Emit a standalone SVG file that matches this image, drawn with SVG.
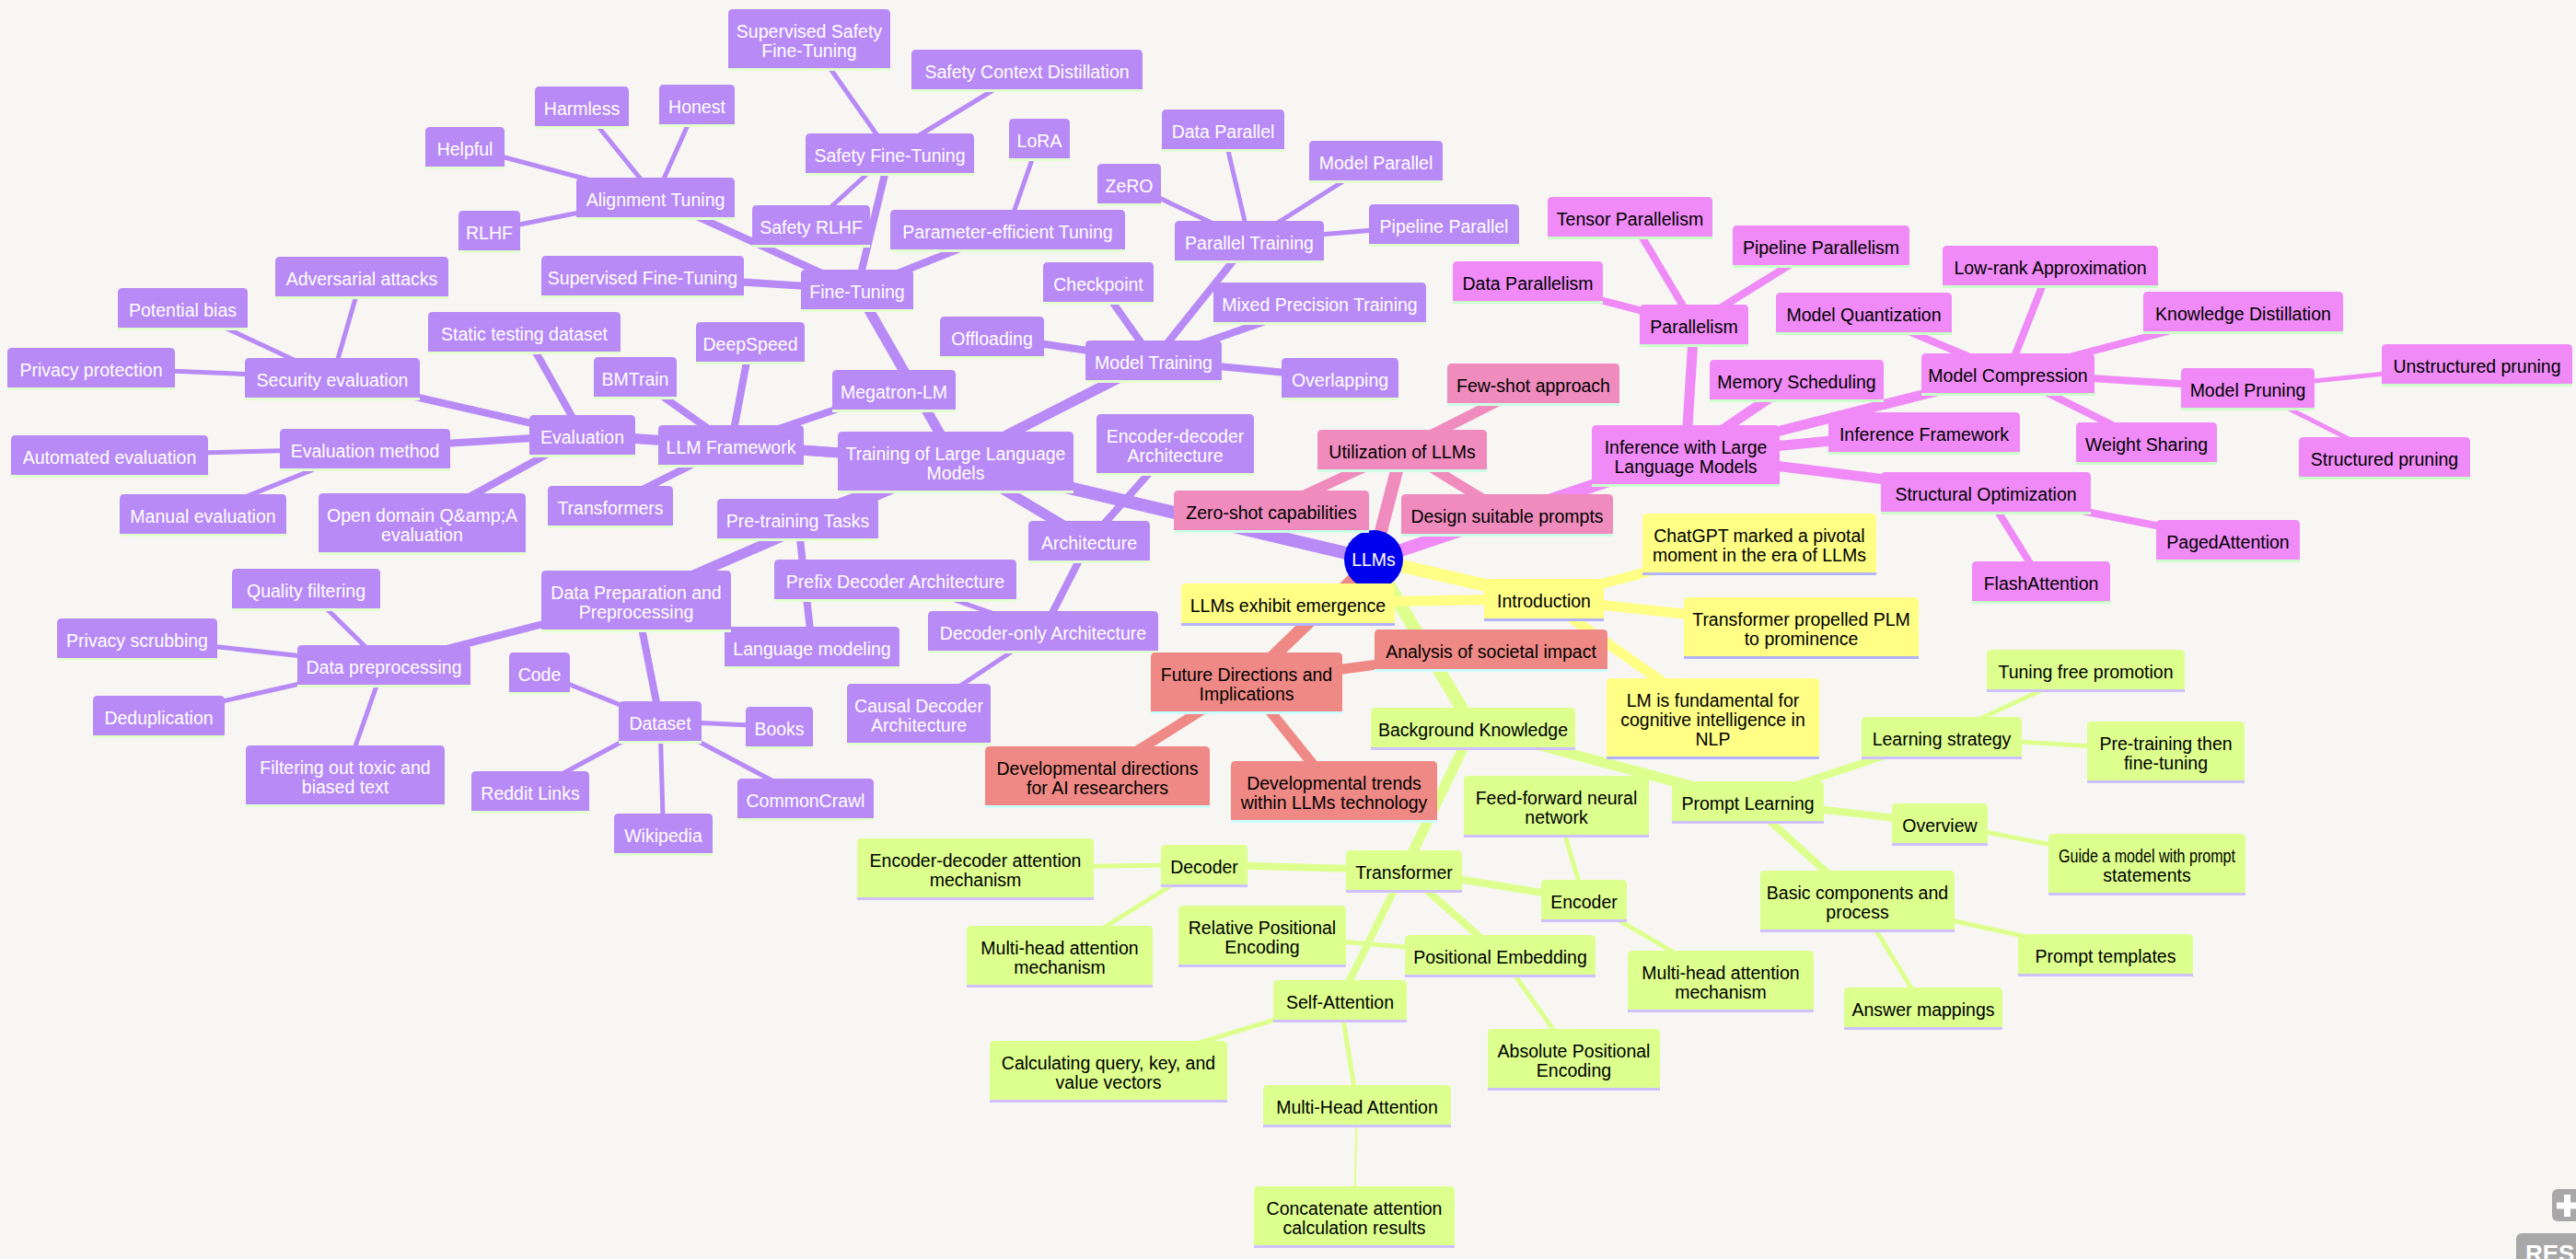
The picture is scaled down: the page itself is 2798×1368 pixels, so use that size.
<svg xmlns="http://www.w3.org/2000/svg" width="2798" height="1368" viewBox="0 0 2798 1368">
<style>
text{font-family:"Liberation Sans",Arial,sans-serif;font-size:19.5px;text-anchor:middle;fill:#000}
.y path{fill:#ffff86}.y .ln{fill:#b3b3fb}
.g path{fill:#ddff8e}.g .ln{fill:#cfc0ff}
.p path{fill:#b88af6}.p .ln{fill:#e3ffd2}.p text{fill:#fff}
.m path{fill:#ef8af6}.m .ln{fill:#ccffcc}
.k path{fill:#ef8bbd}.k .ln{fill:#ccffe6}
.s path{fill:#ef8985}.s .ln{fill:#ccffff}
#edges line{fill:none;stroke-linecap:butt}
.ey{stroke:#ffff86}.eg{stroke:#ddff8e}.ep{stroke:#b88af6}.em{stroke:#ef8af6}.ek{stroke:#ef8bbd}.es{stroke:#ef8985}
.d0{stroke-width:14}.d1{stroke-width:11}.d2{stroke-width:8}.d3{stroke-width:5}.d4{stroke-width:2}
</style>
<rect width="2798" height="1368" fill="#f7f6f3"/>
<g id="edges">
<line class="ey d0" x1="1492" y1="608" x2="1677" y2="650.5"/>
<line class="eg d0" x1="1492" y1="608" x2="1600" y2="790.5"/>
<line class="ep d0" x1="1492" y1="608" x2="1038" y2="501"/>
<line class="em d0" x1="1492" y1="608" x2="1831" y2="494"/>
<line class="ek d0" x1="1492" y1="608" x2="1523" y2="488.5"/>
<line class="es d0" x1="1492" y1="608" x2="1354" y2="741"/>
<line class="ey d1" x1="1677" y1="650.5" x2="1911" y2="590"/>
<line class="ey d1" x1="1677" y1="650.5" x2="1956.5" y2="681"/>
<line class="ey d1" x1="1677" y1="650.5" x2="1860.5" y2="779.5"/>
<line class="ey d1" x1="1677" y1="650.5" x2="1399" y2="655.5"/>
<line class="eg d1" x1="1600" y1="790.5" x2="1525" y2="945.5"/>
<line class="eg d1" x1="1600" y1="790.5" x2="1898.5" y2="870.5"/>
<line class="ep d1" x1="1038" y1="501" x2="866.5" y2="563.5"/>
<line class="ep d1" x1="1038" y1="501" x2="691" y2="652"/>
<line class="ep d1" x1="1038" y1="501" x2="1183" y2="587.5"/>
<line class="ep d1" x1="1038" y1="501" x2="1253" y2="391.5"/>
<line class="ep d1" x1="1038" y1="501" x2="931" y2="314.5"/>
<line class="ep d1" x1="1038" y1="501" x2="632.5" y2="472.5"/>
<line class="ep d1" x1="1038" y1="501" x2="794" y2="483.5"/>
<line class="em d1" x1="1831" y1="494" x2="1840" y2="352.5"/>
<line class="em d1" x1="1831" y1="494" x2="2181" y2="405.5"/>
<line class="em d1" x1="1831" y1="494" x2="1951.5" y2="412.5"/>
<line class="em d1" x1="1831" y1="494" x2="2090" y2="469.5"/>
<line class="em d1" x1="1831" y1="494" x2="2157" y2="534.5"/>
<line class="ek d1" x1="1523" y1="488.5" x2="1665.5" y2="416.5"/>
<line class="ek d1" x1="1523" y1="488.5" x2="1381" y2="554.5"/>
<line class="ek d1" x1="1523" y1="488.5" x2="1637" y2="558.5"/>
<line class="es d1" x1="1354" y1="741" x2="1619.5" y2="705.5"/>
<line class="es d1" x1="1354" y1="741" x2="1192" y2="843"/>
<line class="es d1" x1="1354" y1="741" x2="1449" y2="859"/>
<line class="eg d2" x1="1525" y1="945.5" x2="1720.5" y2="977.5"/>
<line class="eg d2" x1="1525" y1="945.5" x2="1308" y2="939.5"/>
<line class="eg d2" x1="1525" y1="945.5" x2="1629.5" y2="1037.5"/>
<line class="eg d2" x1="1525" y1="945.5" x2="1455.5" y2="1086.5"/>
<line class="eg d2" x1="1898.5" y1="870.5" x2="2109" y2="800.5"/>
<line class="eg d2" x1="1898.5" y1="870.5" x2="2107" y2="894.5"/>
<line class="eg d2" x1="1898.5" y1="870.5" x2="2017.5" y2="978"/>
<line class="ep d2" x1="866.5" y1="563.5" x2="882" y2="702.5"/>
<line class="ep d2" x1="691" y1="652" x2="417" y2="722.5"/>
<line class="ep d2" x1="691" y1="652" x2="717" y2="783.5"/>
<line class="ep d2" x1="1183" y1="587.5" x2="1276.5" y2="482"/>
<line class="ep d2" x1="1183" y1="587.5" x2="1133" y2="685.5"/>
<line class="ep d2" x1="1253" y1="391.5" x2="1357" y2="261.5"/>
<line class="ep d2" x1="1253" y1="391.5" x2="1193" y2="306.5"/>
<line class="ep d2" x1="1253" y1="391.5" x2="1077.5" y2="365.5"/>
<line class="ep d2" x1="1253" y1="391.5" x2="1433.5" y2="328.5"/>
<line class="ep d2" x1="1253" y1="391.5" x2="1455.5" y2="410.5"/>
<line class="ep d2" x1="931" y1="314.5" x2="698" y2="299.5"/>
<line class="ep d2" x1="931" y1="314.5" x2="712" y2="214.5"/>
<line class="ep d2" x1="931" y1="314.5" x2="1094.5" y2="249.5"/>
<line class="ep d2" x1="931" y1="314.5" x2="966.5" y2="166.5"/>
<line class="ep d2" x1="632.5" y1="472.5" x2="569.5" y2="360.5"/>
<line class="ep d2" x1="632.5" y1="472.5" x2="458.5" y2="568"/>
<line class="ep d2" x1="632.5" y1="472.5" x2="361" y2="410.5"/>
<line class="ep d2" x1="632.5" y1="472.5" x2="396.5" y2="487.5"/>
<line class="ep d2" x1="794" y1="483.5" x2="663" y2="549.5"/>
<line class="ep d2" x1="794" y1="483.5" x2="815" y2="371.5"/>
<line class="ep d2" x1="794" y1="483.5" x2="690" y2="409.5"/>
<line class="ep d2" x1="794" y1="483.5" x2="971" y2="423.5"/>
<line class="em d2" x1="1840" y1="352.5" x2="1659.5" y2="305.5"/>
<line class="em d2" x1="1840" y1="352.5" x2="1770.5" y2="235.5"/>
<line class="em d2" x1="1840" y1="352.5" x2="1978" y2="266.5"/>
<line class="em d2" x1="2181" y1="405.5" x2="2024.5" y2="339.5"/>
<line class="em d2" x1="2181" y1="405.5" x2="2227" y2="288.5"/>
<line class="em d2" x1="2181" y1="405.5" x2="2436.5" y2="338.5"/>
<line class="em d2" x1="2181" y1="405.5" x2="2441.5" y2="421.5"/>
<line class="em d2" x1="2181" y1="405.5" x2="2331.5" y2="480.5"/>
<line class="em d2" x1="2157" y1="534.5" x2="2420" y2="586.5"/>
<line class="em d2" x1="2157" y1="534.5" x2="2217" y2="631.5"/>
<line class="eg d3" x1="1720.5" y1="977.5" x2="1869" y2="1065"/>
<line class="eg d3" x1="1720.5" y1="977.5" x2="1690.5" y2="875"/>
<line class="eg d3" x1="1308" y1="939.5" x2="1059.5" y2="943"/>
<line class="eg d3" x1="1308" y1="939.5" x2="1151" y2="1038"/>
<line class="eg d3" x1="1629.5" y1="1037.5" x2="1709.5" y2="1150"/>
<line class="eg d3" x1="1629.5" y1="1037.5" x2="1371" y2="1016"/>
<line class="eg d3" x1="1455.5" y1="1086.5" x2="1204" y2="1163"/>
<line class="eg d3" x1="1455.5" y1="1086.5" x2="1474" y2="1200.5"/>
<line class="eg d3" x1="2109" y1="800.5" x2="2265.5" y2="727.5"/>
<line class="eg d3" x1="2109" y1="800.5" x2="2352.5" y2="816"/>
<line class="eg d3" x1="2107" y1="894.5" x2="2332" y2="938"/>
<line class="eg d3" x1="2017.5" y1="978" x2="2287" y2="1036.5"/>
<line class="eg d3" x1="2017.5" y1="978" x2="2089" y2="1094.5"/>
<line class="ep d3" x1="417" y1="722.5" x2="332.5" y2="639.5"/>
<line class="ep d3" x1="417" y1="722.5" x2="149" y2="693.5"/>
<line class="ep d3" x1="417" y1="722.5" x2="172.5" y2="777.5"/>
<line class="ep d3" x1="417" y1="722.5" x2="375" y2="842"/>
<line class="ep d3" x1="717" y1="783.5" x2="586" y2="730.5"/>
<line class="ep d3" x1="717" y1="783.5" x2="846.5" y2="789.5"/>
<line class="ep d3" x1="717" y1="783.5" x2="576" y2="859.5"/>
<line class="ep d3" x1="717" y1="783.5" x2="720.5" y2="905.5"/>
<line class="ep d3" x1="717" y1="783.5" x2="875" y2="867.5"/>
<line class="ep d3" x1="1133" y1="685.5" x2="972.5" y2="629.5"/>
<line class="ep d3" x1="1133" y1="685.5" x2="998" y2="775"/>
<line class="ep d3" x1="1357" y1="261.5" x2="1328.5" y2="140.5"/>
<line class="ep d3" x1="1357" y1="261.5" x2="1494.5" y2="174.5"/>
<line class="ep d3" x1="1357" y1="261.5" x2="1568.5" y2="243.5"/>
<line class="ep d3" x1="1357" y1="261.5" x2="1226.5" y2="199.5"/>
<line class="ep d3" x1="712" y1="214.5" x2="505" y2="159.5"/>
<line class="ep d3" x1="712" y1="214.5" x2="632" y2="115.5"/>
<line class="ep d3" x1="712" y1="214.5" x2="757" y2="113.5"/>
<line class="ep d3" x1="712" y1="214.5" x2="531.5" y2="250.5"/>
<line class="ep d3" x1="1094.5" y1="249.5" x2="1129" y2="150.5"/>
<line class="ep d3" x1="966.5" y1="166.5" x2="879" y2="42"/>
<line class="ep d3" x1="966.5" y1="166.5" x2="1115.5" y2="75.5"/>
<line class="ep d3" x1="966.5" y1="166.5" x2="881" y2="244.5"/>
<line class="ep d3" x1="361" y1="410.5" x2="198.5" y2="334.5"/>
<line class="ep d3" x1="361" y1="410.5" x2="99" y2="399.5"/>
<line class="ep d3" x1="361" y1="410.5" x2="393" y2="300.5"/>
<line class="ep d3" x1="396.5" y1="487.5" x2="119" y2="494.5"/>
<line class="ep d3" x1="396.5" y1="487.5" x2="220.5" y2="558.5"/>
<line class="em d3" x1="2441.5" y1="421.5" x2="2690.5" y2="395.5"/>
<line class="em d3" x1="2441.5" y1="421.5" x2="2590" y2="496.5"/>
<line class="eg d4" x1="1474" y1="1200.5" x2="1471" y2="1321"/>
</g>
<g id="root"><circle cx="1492" cy="608" r="32" fill="#0000ec"/><text x="1492" y="615" style="fill:#fff">LLMs</text></g>
<g id="n-introduction" class="y" transform="translate(1612,629)"><path d="M0 43V5q0-5 5-5h120q5 0 5 5V43z"/><rect class="ln" y="43" width="130" height="3"/><text x="65" y="30.5">Introduction</text></g>
<g id="n-chatgpt" class="y" transform="translate(1784,558)"><path d="M0 64V5q0-5 5-5h244q5 0 5 5V64z"/><rect class="ln" y="64" width="254" height="3"/><text y="30.5"><tspan x="127">ChatGPT marked a pivotal</tspan><tspan x="127" dy="21">moment in the era of LLMs</tspan></text></g>
<g id="n-transprop" class="y" transform="translate(1829,649)"><path d="M0 64V5q0-5 5-5h245q5 0 5 5V64z"/><rect class="ln" y="64" width="255" height="3"/><text y="30.5"><tspan x="127.5">Transformer propelled PLM</tspan><tspan x="127.5" dy="21">to prominence</tspan></text></g>
<g id="n-lmfund" class="y" transform="translate(1745,737)"><path d="M0 85V5q0-5 5-5h221q5 0 5 5V85z"/><rect class="ln" y="85" width="231" height="3"/><text y="30.5"><tspan x="115.5">LM is fundamental for</tspan><tspan x="115.5" dy="21">cognitive intelligence in</tspan><tspan x="115.5" dy="21">NLP</tspan></text></g>
<g id="n-emerge" class="y" transform="translate(1283,634)"><path d="M0 43V5q0-5 5-5h222q5 0 5 5V43z"/><rect class="ln" y="43" width="232" height="3"/><text x="116" y="30.5">LLMs exhibit emergence</text></g>
<g id="n-bg" class="g" transform="translate(1489,769)"><path d="M0 43V5q0-5 5-5h212q5 0 5 5V43z"/><rect class="ln" y="43" width="222" height="3"/><text x="111" y="30.5">Background Knowledge</text></g>
<g id="n-transformer" class="g" transform="translate(1462,924)"><path d="M0 43V5q0-5 5-5h116q5 0 5 5V43z"/><rect class="ln" y="43" width="126" height="3"/><text x="63" y="30.5">Transformer</text></g>
<g id="n-encoder" class="g" transform="translate(1674,956)"><path d="M0 43V5q0-5 5-5h83q5 0 5 5V43z"/><rect class="ln" y="43" width="93" height="3"/><text x="46.5" y="30.5">Encoder</text></g>
<g id="n-enc-mha" class="g" transform="translate(1768,1033)"><path d="M0 64V5q0-5 5-5h192q5 0 5 5V64z"/><rect class="ln" y="64" width="202" height="3"/><text y="30.5"><tspan x="101">Multi-head attention</tspan><tspan x="101" dy="21">mechanism</tspan></text></g>
<g id="n-ffn" class="g" transform="translate(1590,843)"><path d="M0 64V5q0-5 5-5h191q5 0 5 5V64z"/><rect class="ln" y="64" width="201" height="3"/><text y="30.5"><tspan x="100.5">Feed-forward neural</tspan><tspan x="100.5" dy="21">network</tspan></text></g>
<g id="n-decoder" class="g" transform="translate(1261,918)"><path d="M0 43V5q0-5 5-5h84q5 0 5 5V43z"/><rect class="ln" y="43" width="94" height="3"/><text x="47" y="30.5">Decoder</text></g>
<g id="n-encdecatt" class="g" transform="translate(931,911)"><path d="M0 64V5q0-5 5-5h247q5 0 5 5V64z"/><rect class="ln" y="64" width="257" height="3"/><text y="30.5"><tspan x="128.5">Encoder-decoder attention</tspan><tspan x="128.5" dy="21">mechanism</tspan></text></g>
<g id="n-dec-mha" class="g" transform="translate(1050,1006)"><path d="M0 64V5q0-5 5-5h192q5 0 5 5V64z"/><rect class="ln" y="64" width="202" height="3"/><text y="30.5"><tspan x="101">Multi-head attention</tspan><tspan x="101" dy="21">mechanism</tspan></text></g>
<g id="n-posemb" class="g" transform="translate(1526,1016)"><path d="M0 43V5q0-5 5-5h197q5 0 5 5V43z"/><rect class="ln" y="43" width="207" height="3"/><text x="103.5" y="30.5">Positional Embedding</text></g>
<g id="n-abspos" class="g" transform="translate(1616,1118)"><path d="M0 64V5q0-5 5-5h177q5 0 5 5V64z"/><rect class="ln" y="64" width="187" height="3"/><text y="30.5"><tspan x="93.5">Absolute Positional</tspan><tspan x="93.5" dy="21">Encoding</tspan></text></g>
<g id="n-relpos" class="g" transform="translate(1280,984)"><path d="M0 64V5q0-5 5-5h172q5 0 5 5V64z"/><rect class="ln" y="64" width="182" height="3"/><text y="30.5"><tspan x="91">Relative Positional</tspan><tspan x="91" dy="21">Encoding</tspan></text></g>
<g id="n-selfatt" class="g" transform="translate(1383,1065)"><path d="M0 43V5q0-5 5-5h135q5 0 5 5V43z"/><rect class="ln" y="43" width="145" height="3"/><text x="72.5" y="30.5">Self-Attention</text></g>
<g id="n-calcqkv" class="g" transform="translate(1075,1131)"><path d="M0 64V5q0-5 5-5h248q5 0 5 5V64z"/><rect class="ln" y="64" width="258" height="3"/><text y="30.5"><tspan x="129">Calculating query, key, and</tspan><tspan x="129" dy="21">value vectors</tspan></text></g>
<g id="n-mhatt" class="g" transform="translate(1372,1179)"><path d="M0 43V5q0-5 5-5h194q5 0 5 5V43z"/><rect class="ln" y="43" width="204" height="3"/><text x="102" y="30.5">Multi-Head Attention</text></g>
<g id="n-concat" class="g" transform="translate(1362,1289)"><path d="M0 64V5q0-5 5-5h208q5 0 5 5V64z"/><rect class="ln" y="64" width="218" height="3"/><text y="30.5"><tspan x="109">Concatenate attention</tspan><tspan x="109" dy="21">calculation results</tspan></text></g>
<g id="n-prompt" class="g" transform="translate(1816,849)"><path d="M0 43V5q0-5 5-5h155q5 0 5 5V43z"/><rect class="ln" y="43" width="165" height="3"/><text x="82.5" y="30.5">Prompt Learning</text></g>
<g id="n-learnstrat" class="g" transform="translate(2022,779)"><path d="M0 43V5q0-5 5-5h164q5 0 5 5V43z"/><rect class="ln" y="43" width="174" height="3"/><text x="87" y="30.5">Learning strategy</text></g>
<g id="n-tuningfree" class="g" transform="translate(2158,706)"><path d="M0 43V5q0-5 5-5h205q5 0 5 5V43z"/><rect class="ln" y="43" width="215" height="3"/><text x="107.5" y="30.5">Tuning free promotion</text></g>
<g id="n-pretrainft" class="g" transform="translate(2267,784)"><path d="M0 64V5q0-5 5-5h161q5 0 5 5V64z"/><rect class="ln" y="64" width="171" height="3"/><text y="30.5"><tspan x="85.5">Pre-training then</tspan><tspan x="85.5" dy="21">fine-tuning</tspan></text></g>
<g id="n-overview" class="g" transform="translate(2055,873)"><path d="M0 43V5q0-5 5-5h94q5 0 5 5V43z"/><rect class="ln" y="43" width="104" height="3"/><text x="52" y="30.5">Overview</text></g>
<g id="n-guide" class="g" transform="translate(2225,906)"><path d="M0 64V5q0-5 5-5h204q5 0 5 5V64z"/><rect class="ln" y="64" width="214" height="3"/><text y="30.5"><tspan x="107" textLength="192" lengthAdjust="spacingAndGlyphs">Guide a model with prompt</tspan><tspan x="107" dy="21">statements</tspan></text></g>
<g id="n-basic" class="g" transform="translate(1912,946)"><path d="M0 64V5q0-5 5-5h201q5 0 5 5V64z"/><rect class="ln" y="64" width="211" height="3"/><text y="30.5"><tspan x="105.5">Basic components and</tspan><tspan x="105.5" dy="21">process</tspan></text></g>
<g id="n-templates" class="g" transform="translate(2192,1015)"><path d="M0 43V5q0-5 5-5h180q5 0 5 5V43z"/><rect class="ln" y="43" width="190" height="3"/><text x="95" y="30.5">Prompt templates</text></g>
<g id="n-answer" class="g" transform="translate(2003,1073)"><path d="M0 43V5q0-5 5-5h162q5 0 5 5V43z"/><rect class="ln" y="43" width="172" height="3"/><text x="86" y="30.5">Answer mappings</text></g>
<g id="n-training" class="p" transform="translate(910,469)"><path d="M0 64V5q0-5 5-5h246q5 0 5 5V64z"/><rect class="ln" y="64" width="256" height="3"/><text y="30.5"><tspan x="128">Training of Large Language</tspan><tspan x="128" dy="21">Models</tspan></text></g>
<g id="n-pretasks" class="p" transform="translate(779,542)"><path d="M0 43V5q0-5 5-5h165q5 0 5 5V43z"/><rect class="ln" y="43" width="175" height="3"/><text x="87.5" y="30.5">Pre-training Tasks</text></g>
<g id="n-langmod" class="p" transform="translate(787,681)"><path d="M0 43V5q0-5 5-5h180q5 0 5 5V43z"/><rect class="ln" y="43" width="190" height="3"/><text x="95" y="30.5">Language modeling</text></g>
<g id="n-dataprep" class="p" transform="translate(588,620)"><path d="M0 64V5q0-5 5-5h196q5 0 5 5V64z"/><rect class="ln" y="64" width="206" height="3"/><text y="30.5"><tspan x="103">Data Preparation and</tspan><tspan x="103" dy="21">Preprocessing</tspan></text></g>
<g id="n-dataproc" class="p" transform="translate(323,701)"><path d="M0 43V5q0-5 5-5h178q5 0 5 5V43z"/><rect class="ln" y="43" width="188" height="3"/><text x="94" y="30.5">Data preprocessing</text></g>
<g id="n-quality" class="p" transform="translate(252,618)"><path d="M0 43V5q0-5 5-5h151q5 0 5 5V43z"/><rect class="ln" y="43" width="161" height="3"/><text x="80.5" y="30.5">Quality filtering</text></g>
<g id="n-privscrub" class="p" transform="translate(62,672)"><path d="M0 43V5q0-5 5-5h164q5 0 5 5V43z"/><rect class="ln" y="43" width="174" height="3"/><text x="87" y="30.5">Privacy scrubbing</text></g>
<g id="n-dedup" class="p" transform="translate(101,756)"><path d="M0 43V5q0-5 5-5h133q5 0 5 5V43z"/><rect class="ln" y="43" width="143" height="3"/><text x="71.5" y="30.5">Deduplication</text></g>
<g id="n-toxic" class="p" transform="translate(267,810)"><path d="M0 64V5q0-5 5-5h206q5 0 5 5V64z"/><rect class="ln" y="64" width="216" height="3"/><text y="30.5"><tspan x="108">Filtering out toxic and</tspan><tspan x="108" dy="21">biased text</tspan></text></g>
<g id="n-dataset" class="p" transform="translate(672,762)"><path d="M0 43V5q0-5 5-5h80q5 0 5 5V43z"/><rect class="ln" y="43" width="90" height="3"/><text x="45" y="30.5">Dataset</text></g>
<g id="n-code" class="p" transform="translate(553,709)"><path d="M0 43V5q0-5 5-5h56q5 0 5 5V43z"/><rect class="ln" y="43" width="66" height="3"/><text x="33" y="30.5">Code</text></g>
<g id="n-books" class="p" transform="translate(810,768)"><path d="M0 43V5q0-5 5-5h63q5 0 5 5V43z"/><rect class="ln" y="43" width="73" height="3"/><text x="36.5" y="30.5">Books</text></g>
<g id="n-reddit" class="p" transform="translate(512,838)"><path d="M0 43V5q0-5 5-5h118q5 0 5 5V43z"/><rect class="ln" y="43" width="128" height="3"/><text x="64" y="30.5">Reddit Links</text></g>
<g id="n-wiki" class="p" transform="translate(667,884)"><path d="M0 43V5q0-5 5-5h97q5 0 5 5V43z"/><rect class="ln" y="43" width="107" height="3"/><text x="53.5" y="30.5">Wikipedia</text></g>
<g id="n-cc" class="p" transform="translate(801,846)"><path d="M0 43V5q0-5 5-5h138q5 0 5 5V43z"/><rect class="ln" y="43" width="148" height="3"/><text x="74" y="30.5">CommonCrawl</text></g>
<g id="n-arch" class="p" transform="translate(1117,566)"><path d="M0 43V5q0-5 5-5h122q5 0 5 5V43z"/><rect class="ln" y="43" width="132" height="3"/><text x="66" y="30.5">Architecture</text></g>
<g id="n-encdecarch" class="p" transform="translate(1191,450)"><path d="M0 64V5q0-5 5-5h161q5 0 5 5V64z"/><rect class="ln" y="64" width="171" height="3"/><text y="30.5"><tspan x="85.5">Encoder-decoder</tspan><tspan x="85.5" dy="21">Architecture</tspan></text></g>
<g id="n-deconly" class="p" transform="translate(1008,664)"><path d="M0 43V5q0-5 5-5h240q5 0 5 5V43z"/><rect class="ln" y="43" width="250" height="3"/><text x="125" y="30.5">Decoder-only Architecture</text></g>
<g id="n-prefix" class="p" transform="translate(841,608)"><path d="M0 43V5q0-5 5-5h253q5 0 5 5V43z"/><rect class="ln" y="43" width="263" height="3"/><text x="131.5" y="30.5">Prefix Decoder Architecture</text></g>
<g id="n-causal" class="p" transform="translate(920,743)"><path d="M0 64V5q0-5 5-5h146q5 0 5 5V64z"/><rect class="ln" y="64" width="156" height="3"/><text y="30.5"><tspan x="78">Causal Decoder</tspan><tspan x="78" dy="21">Architecture</tspan></text></g>
<g id="n-modeltrain" class="p" transform="translate(1179,370)"><path d="M0 43V5q0-5 5-5h138q5 0 5 5V43z"/><rect class="ln" y="43" width="148" height="3"/><text x="74" y="30.5">Model Training</text></g>
<g id="n-partrain" class="p" transform="translate(1276,240)"><path d="M0 43V5q0-5 5-5h152q5 0 5 5V43z"/><rect class="ln" y="43" width="162" height="3"/><text x="81" y="30.5">Parallel Training</text></g>
<g id="n-dp" class="p" transform="translate(1262,119)"><path d="M0 43V5q0-5 5-5h123q5 0 5 5V43z"/><rect class="ln" y="43" width="133" height="3"/><text x="66.5" y="30.5">Data Parallel</text></g>
<g id="n-mp" class="p" transform="translate(1422,153)"><path d="M0 43V5q0-5 5-5h135q5 0 5 5V43z"/><rect class="ln" y="43" width="145" height="3"/><text x="72.5" y="30.5">Model Parallel</text></g>
<g id="n-pp" class="p" transform="translate(1487,222)"><path d="M0 43V5q0-5 5-5h153q5 0 5 5V43z"/><rect class="ln" y="43" width="163" height="3"/><text x="81.5" y="30.5">Pipeline Parallel</text></g>
<g id="n-zero" class="p" transform="translate(1192,178)"><path d="M0 43V5q0-5 5-5h59q5 0 5 5V43z"/><rect class="ln" y="43" width="69" height="3"/><text x="34.5" y="30.5">ZeRO</text></g>
<g id="n-ckpt" class="p" transform="translate(1133,285)"><path d="M0 43V5q0-5 5-5h110q5 0 5 5V43z"/><rect class="ln" y="43" width="120" height="3"/><text x="60" y="30.5">Checkpoint</text></g>
<g id="n-offload" class="p" transform="translate(1021,344)"><path d="M0 43V5q0-5 5-5h103q5 0 5 5V43z"/><rect class="ln" y="43" width="113" height="3"/><text x="56.5" y="30.5">Offloading</text></g>
<g id="n-mixed" class="p" transform="translate(1318,307)"><path d="M0 43V5q0-5 5-5h221q5 0 5 5V43z"/><rect class="ln" y="43" width="231" height="3"/><text x="115.5" y="30.5">Mixed Precision Training</text></g>
<g id="n-overlap" class="p" transform="translate(1392,389)"><path d="M0 43V5q0-5 5-5h117q5 0 5 5V43z"/><rect class="ln" y="43" width="127" height="3"/><text x="63.5" y="30.5">Overlapping</text></g>
<g id="n-ft" class="p" transform="translate(870,293)"><path d="M0 43V5q0-5 5-5h112q5 0 5 5V43z"/><rect class="ln" y="43" width="122" height="3"/><text x="61" y="30.5">Fine-Tuning</text></g>
<g id="n-sft" class="p" transform="translate(588,278)"><path d="M0 43V5q0-5 5-5h210q5 0 5 5V43z"/><rect class="ln" y="43" width="220" height="3"/><text x="110" y="30.5">Supervised Fine-Tuning</text></g>
<g id="n-align" class="p" transform="translate(626,193)"><path d="M0 43V5q0-5 5-5h162q5 0 5 5V43z"/><rect class="ln" y="43" width="172" height="3"/><text x="86" y="30.5">Alignment Tuning</text></g>
<g id="n-helpful" class="p" transform="translate(462,138)"><path d="M0 43V5q0-5 5-5h76q5 0 5 5V43z"/><rect class="ln" y="43" width="86" height="3"/><text x="43" y="30.5">Helpful</text></g>
<g id="n-harmless" class="p" transform="translate(581,94)"><path d="M0 43V5q0-5 5-5h92q5 0 5 5V43z"/><rect class="ln" y="43" width="102" height="3"/><text x="51" y="30.5">Harmless</text></g>
<g id="n-honest" class="p" transform="translate(716,92)"><path d="M0 43V5q0-5 5-5h72q5 0 5 5V43z"/><rect class="ln" y="43" width="82" height="3"/><text x="41" y="30.5">Honest</text></g>
<g id="n-rlhf" class="p" transform="translate(498,229)"><path d="M0 43V5q0-5 5-5h57q5 0 5 5V43z"/><rect class="ln" y="43" width="67" height="3"/><text x="33.5" y="30.5">RLHF</text></g>
<g id="n-peft" class="p" transform="translate(967,228)"><path d="M0 43V5q0-5 5-5h245q5 0 5 5V43z"/><rect class="ln" y="43" width="255" height="3"/><text x="127.5" y="30.5">Parameter-efficient Tuning</text></g>
<g id="n-lora" class="p" transform="translate(1096,129)"><path d="M0 43V5q0-5 5-5h56q5 0 5 5V43z"/><rect class="ln" y="43" width="66" height="3"/><text x="33" y="30.5">LoRA</text></g>
<g id="n-sfty" class="p" transform="translate(875,145)"><path d="M0 43V5q0-5 5-5h173q5 0 5 5V43z"/><rect class="ln" y="43" width="183" height="3"/><text x="91.5" y="30.5">Safety Fine-Tuning</text></g>
<g id="n-ssft" class="p" transform="translate(791,10)"><path d="M0 64V5q0-5 5-5h166q5 0 5 5V64z"/><rect class="ln" y="64" width="176" height="3"/><text y="30.5"><tspan x="88">Supervised Safety</tspan><tspan x="88" dy="21">Fine-Tuning</tspan></text></g>
<g id="n-scd" class="p" transform="translate(990,54)"><path d="M0 43V5q0-5 5-5h241q5 0 5 5V43z"/><rect class="ln" y="43" width="251" height="3"/><text x="125.5" y="30.5">Safety Context Distillation</text></g>
<g id="n-srlhf" class="p" transform="translate(817,223)"><path d="M0 43V5q0-5 5-5h118q5 0 5 5V43z"/><rect class="ln" y="43" width="128" height="3"/><text x="64" y="30.5">Safety RLHF</text></g>
<g id="n-eval" class="p" transform="translate(575,451)"><path d="M0 43V5q0-5 5-5h105q5 0 5 5V43z"/><rect class="ln" y="43" width="115" height="3"/><text x="57.5" y="30.5">Evaluation</text></g>
<g id="n-static" class="p" transform="translate(465,339)"><path d="M0 43V5q0-5 5-5h199q5 0 5 5V43z"/><rect class="ln" y="43" width="209" height="3"/><text x="104.5" y="30.5">Static testing dataset</text></g>
<g id="n-openqa" class="p" transform="translate(346,536)"><path d="M0 64V5q0-5 5-5h215q5 0 5 5V64z"/><rect class="ln" y="64" width="225" height="3"/><text y="30.5"><tspan x="112.5">Open domain Q&amp;amp;A</tspan><tspan x="112.5" dy="21">evaluation</tspan></text></g>
<g id="n-sec" class="p" transform="translate(266,389)"><path d="M0 43V5q0-5 5-5h180q5 0 5 5V43z"/><rect class="ln" y="43" width="190" height="3"/><text x="95" y="30.5">Security evaluation</text></g>
<g id="n-bias" class="p" transform="translate(128,313)"><path d="M0 43V5q0-5 5-5h131q5 0 5 5V43z"/><rect class="ln" y="43" width="141" height="3"/><text x="70.5" y="30.5">Potential bias</text></g>
<g id="n-privprot" class="p" transform="translate(8,378)"><path d="M0 43V5q0-5 5-5h172q5 0 5 5V43z"/><rect class="ln" y="43" width="182" height="3"/><text x="91" y="30.5">Privacy protection</text></g>
<g id="n-adv" class="p" transform="translate(299,279)"><path d="M0 43V5q0-5 5-5h178q5 0 5 5V43z"/><rect class="ln" y="43" width="188" height="3"/><text x="94" y="30.5">Adversarial attacks</text></g>
<g id="n-evalm" class="p" transform="translate(304,466)"><path d="M0 43V5q0-5 5-5h175q5 0 5 5V43z"/><rect class="ln" y="43" width="185" height="3"/><text x="92.5" y="30.5">Evaluation method</text></g>
<g id="n-auto" class="p" transform="translate(12,473)"><path d="M0 43V5q0-5 5-5h204q5 0 5 5V43z"/><rect class="ln" y="43" width="214" height="3"/><text x="107" y="30.5">Automated evaluation</text></g>
<g id="n-manual" class="p" transform="translate(130,537)"><path d="M0 43V5q0-5 5-5h171q5 0 5 5V43z"/><rect class="ln" y="43" width="181" height="3"/><text x="90.5" y="30.5">Manual evaluation</text></g>
<g id="n-llmfw" class="p" transform="translate(715,462)"><path d="M0 43V5q0-5 5-5h148q5 0 5 5V43z"/><rect class="ln" y="43" width="158" height="3"/><text x="79" y="30.5">LLM Framework</text></g>
<g id="n-transformers" class="p" transform="translate(595,528)"><path d="M0 43V5q0-5 5-5h126q5 0 5 5V43z"/><rect class="ln" y="43" width="136" height="3"/><text x="68" y="30.5">Transformers</text></g>
<g id="n-deepspeed" class="p" transform="translate(756,350)"><path d="M0 43V5q0-5 5-5h108q5 0 5 5V43z"/><rect class="ln" y="43" width="118" height="3"/><text x="59" y="30.5">DeepSpeed</text></g>
<g id="n-bmtrain" class="p" transform="translate(645,388)"><path d="M0 43V5q0-5 5-5h80q5 0 5 5V43z"/><rect class="ln" y="43" width="90" height="3"/><text x="45" y="30.5">BMTrain</text></g>
<g id="n-megatron" class="p" transform="translate(904,402)"><path d="M0 43V5q0-5 5-5h124q5 0 5 5V43z"/><rect class="ln" y="43" width="134" height="3"/><text x="67" y="30.5">Megatron-LM</text></g>
<g id="n-inference" class="m" transform="translate(1729,462)"><path d="M0 64V5q0-5 5-5h194q5 0 5 5V64z"/><rect class="ln" y="64" width="204" height="3"/><text y="30.5"><tspan x="102">Inference with Large</tspan><tspan x="102" dy="21">Language Models</tspan></text></g>
<g id="n-parallelism" class="m" transform="translate(1781,331)"><path d="M0 43V5q0-5 5-5h108q5 0 5 5V43z"/><rect class="ln" y="43" width="118" height="3"/><text x="59" y="30.5">Parallelism</text></g>
<g id="n-datapar" class="m" transform="translate(1578,284)"><path d="M0 43V5q0-5 5-5h153q5 0 5 5V43z"/><rect class="ln" y="43" width="163" height="3"/><text x="81.5" y="30.5">Data Parallelism</text></g>
<g id="n-tensor" class="m" transform="translate(1681,214)"><path d="M0 43V5q0-5 5-5h169q5 0 5 5V43z"/><rect class="ln" y="43" width="179" height="3"/><text x="89.5" y="30.5">Tensor Parallelism</text></g>
<g id="n-pipepar" class="m" transform="translate(1882,245)"><path d="M0 43V5q0-5 5-5h182q5 0 5 5V43z"/><rect class="ln" y="43" width="192" height="3"/><text x="96" y="30.5">Pipeline Parallelism</text></g>
<g id="n-compress" class="m" transform="translate(2087,384)"><path d="M0 43V5q0-5 5-5h178q5 0 5 5V43z"/><rect class="ln" y="43" width="188" height="3"/><text x="94" y="30.5">Model Compression</text></g>
<g id="n-quant" class="m" transform="translate(1929,318)"><path d="M0 43V5q0-5 5-5h181q5 0 5 5V43z"/><rect class="ln" y="43" width="191" height="3"/><text x="95.5" y="30.5">Model Quantization</text></g>
<g id="n-lowrank" class="m" transform="translate(2110,267)"><path d="M0 43V5q0-5 5-5h224q5 0 5 5V43z"/><rect class="ln" y="43" width="234" height="3"/><text x="117" y="30.5">Low-rank Approximation</text></g>
<g id="n-kd" class="m" transform="translate(2328,317)"><path d="M0 43V5q0-5 5-5h207q5 0 5 5V43z"/><rect class="ln" y="43" width="217" height="3"/><text x="108.5" y="30.5">Knowledge Distillation</text></g>
<g id="n-pruning" class="m" transform="translate(2369,400)"><path d="M0 43V5q0-5 5-5h135q5 0 5 5V43z"/><rect class="ln" y="43" width="145" height="3"/><text x="72.5" y="30.5">Model Pruning</text></g>
<g id="n-unstruct" class="m" transform="translate(2587,374)"><path d="M0 43V5q0-5 5-5h197q5 0 5 5V43z"/><rect class="ln" y="43" width="207" height="3"/><text x="103.5" y="30.5">Unstructured pruning</text></g>
<g id="n-struct" class="m" transform="translate(2497,475)"><path d="M0 43V5q0-5 5-5h176q5 0 5 5V43z"/><rect class="ln" y="43" width="186" height="3"/><text x="93" y="30.5">Structured pruning</text></g>
<g id="n-weight" class="m" transform="translate(2255,459)"><path d="M0 43V5q0-5 5-5h143q5 0 5 5V43z"/><rect class="ln" y="43" width="153" height="3"/><text x="76.5" y="30.5">Weight Sharing</text></g>
<g id="n-memsched" class="m" transform="translate(1857,391)"><path d="M0 43V5q0-5 5-5h179q5 0 5 5V43z"/><rect class="ln" y="43" width="189" height="3"/><text x="94.5" y="30.5">Memory Scheduling</text></g>
<g id="n-infw" class="m" transform="translate(1986,448)"><path d="M0 43V5q0-5 5-5h198q5 0 5 5V43z"/><rect class="ln" y="43" width="208" height="3"/><text x="104" y="30.5">Inference Framework</text></g>
<g id="n-structopt" class="m" transform="translate(2043,513)"><path d="M0 43V5q0-5 5-5h218q5 0 5 5V43z"/><rect class="ln" y="43" width="228" height="3"/><text x="114" y="30.5">Structural Optimization</text></g>
<g id="n-paged" class="m" transform="translate(2342,565)"><path d="M0 43V5q0-5 5-5h146q5 0 5 5V43z"/><rect class="ln" y="43" width="156" height="3"/><text x="78" y="30.5">PagedAttention</text></g>
<g id="n-flash" class="m" transform="translate(2142,610)"><path d="M0 43V5q0-5 5-5h140q5 0 5 5V43z"/><rect class="ln" y="43" width="150" height="3"/><text x="75" y="30.5">FlashAttention</text></g>
<g id="n-util" class="k" transform="translate(1431,467)"><path d="M0 43V5q0-5 5-5h174q5 0 5 5V43z"/><rect class="ln" y="43" width="184" height="3"/><text x="92" y="30.5">Utilization of LLMs</text></g>
<g id="n-fewshot" class="k" transform="translate(1572,395)"><path d="M0 43V5q0-5 5-5h177q5 0 5 5V43z"/><rect class="ln" y="43" width="187" height="3"/><text x="93.5" y="30.5">Few-shot approach</text></g>
<g id="n-zeroshot" class="k" transform="translate(1275,533)"><path d="M0 43V5q0-5 5-5h202q5 0 5 5V43z"/><rect class="ln" y="43" width="212" height="3"/><text x="106" y="30.5">Zero-shot capabilities</text></g>
<g id="n-design" class="k" transform="translate(1522,537)"><path d="M0 43V5q0-5 5-5h220q5 0 5 5V43z"/><rect class="ln" y="43" width="230" height="3"/><text x="115" y="30.5">Design suitable prompts</text></g>
<g id="n-future" class="s" transform="translate(1250,709)"><path d="M0 64V5q0-5 5-5h198q5 0 5 5V64z"/><rect class="ln" y="64" width="208" height="3"/><text y="30.5"><tspan x="104">Future Directions and</tspan><tspan x="104" dy="21">Implications</tspan></text></g>
<g id="n-societal" class="s" transform="translate(1493,684)"><path d="M0 43V5q0-5 5-5h243q5 0 5 5V43z"/><rect class="ln" y="43" width="253" height="3"/><text x="126.5" y="30.5">Analysis of societal impact</text></g>
<g id="n-devdir" class="s" transform="translate(1070,811)"><path d="M0 64V5q0-5 5-5h234q5 0 5 5V64z"/><rect class="ln" y="64" width="244" height="3"/><text y="30.5"><tspan x="122">Developmental directions</tspan><tspan x="122" dy="21">for AI researchers</tspan></text></g>
<g id="n-devtrend" class="s" transform="translate(1337,827)"><path d="M0 64V5q0-5 5-5h214q5 0 5 5V64z"/><rect class="ln" y="64" width="224" height="3"/><text y="30.5"><tspan x="112">Developmental trends</tspan><tspan x="112" dy="21">within LLMs technology</tspan></text></g>
<g id="zoom-controls">
<rect x="2772" y="1292" width="40" height="35" rx="6" fill="#a8a8a8"/>
<path d="M2777 1310h23M2788.5 1298v24" stroke="#fff" stroke-width="7"/>
<rect x="2733" y="1340" width="80" height="40" rx="6" fill="#a8a8a8"/>
<text x="2743" y="1371" style="text-anchor:start;font-weight:bold;font-size:26px;fill:#fff">RES</text>
</g>
</svg>
